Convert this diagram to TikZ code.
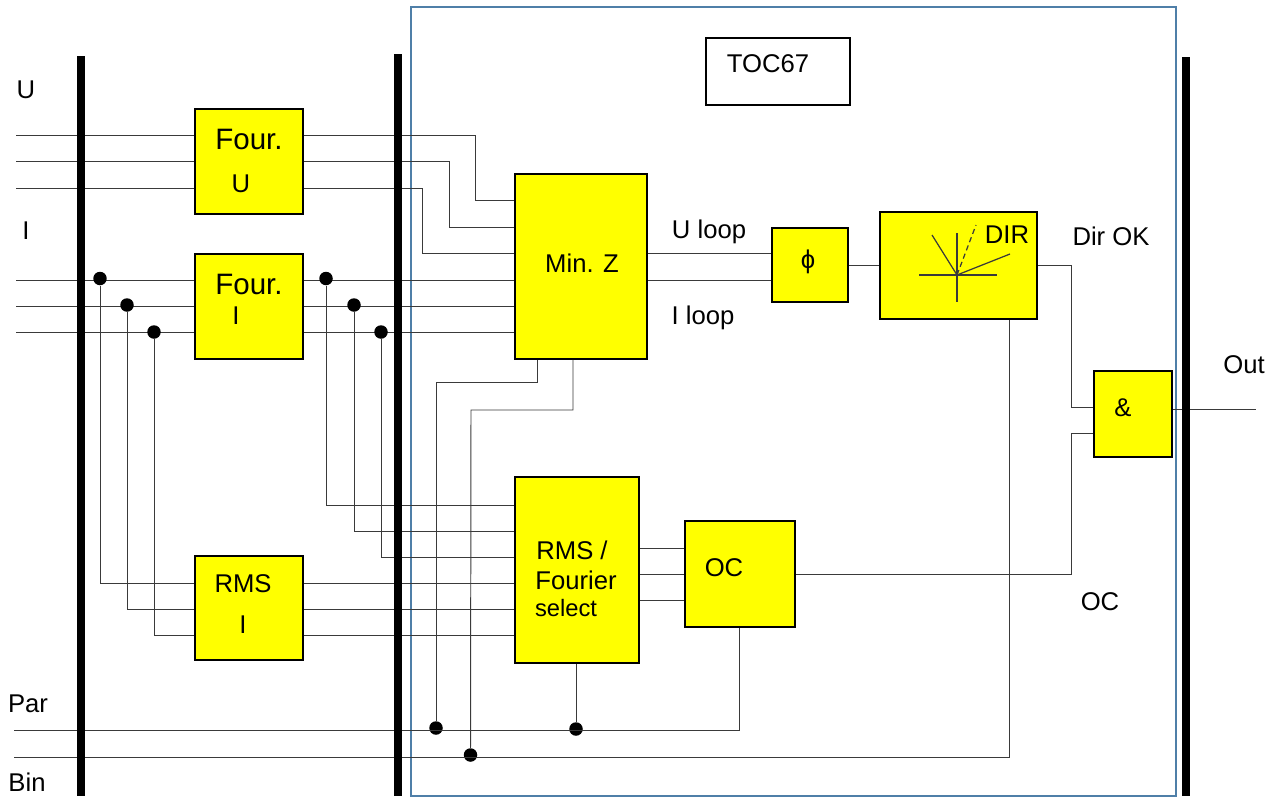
\documentclass[tikz,border=0pt]{standalone}
\usepackage{fontspec}
\setmainfont{Liberation Sans}
\usetikzlibrary{calc}
\definecolor{framecol}{HTML}{4F7FA8}
\definecolor{wirecol}{HTML}{3A3A3A}
\definecolor{blockcol}{RGB}{255,255,0}

\begin{document}
\begin{tikzpicture}[
  x=0.02cm,y=-0.02cm,
  block/.style={draw=black,line width=1.1pt,fill=blockcol,inner sep=0pt},
  busbar/.style={fill=black,inner sep=0pt,minimum width=0.16cm},
  wire/.style={draw=wirecol,line width=0.55pt},
  junction/.style={circle,fill=black,inner sep=0pt,minimum size=0.27cm},
  lbl/.style={inner sep=0pt,font=\fontsize{14.6}{17}\selectfont},
  biglbl/.style={lbl,font=\fontsize{16.8}{20}\selectfont}
]
\useasboundingbox (0,0) rectangle (1275,798);

% frame
\node[draw=framecol,line width=1.1pt,inner sep=0pt,minimum width=15.3cm,minimum height=15.78cm] (frame) at (793.5,401.5) {};

% blocks
\node[block,minimum width=2.16cm,minimum height=2.1cm] (fourU) at (249,161.5) {};
\node[block,minimum width=2.16cm,minimum height=2.1cm] (fourI) at (249,306.5) {};
\node[block,minimum width=2.16cm,minimum height=2.08cm] (rmsI) at (249,608) {};
\node[block,minimum width=2.64cm,minimum height=3.7cm] (minZ) at (581,266.5) {};
\node[block,minimum width=2.48cm,minimum height=3.72cm] (rmsF) at (577,570) {};
\node[block,minimum width=2.2cm,minimum height=2.12cm] (oc) at (740,574) {};
\node[block,minimum width=1.52cm,minimum height=1.48cm] (phi) at (810,265) {};
\node[block,minimum width=3.14cm,minimum height=2.14cm] (dir) at (958.5,265.5) {};
\node[block,minimum width=1.56cm,minimum height=1.72cm] (and) at (1133,414) {};
\node[draw=black,line width=0.8pt,fill=white,inner sep=0pt,minimum width=2.88cm,minimum height=1.34cm] (toc) at (778,71.5) {};

% inputs
\coordinate (u1) at (16,135);
\coordinate (u2) at (16,161);
\coordinate (u3) at (16,188);
\coordinate (i1) at (16,280);
\coordinate (i2) at (16,306);
\coordinate (i3) at (16,332);
\coordinate (par) at (14,730);
\coordinate (bin) at (14,757);
\coordinate (out) at (1256,409);

\foreach \n/\xb/\yb in {1/475/200,2/449/227,3/422/253}{
  \draw[wire] (u\n) -- (u\n -| fourU.west);
  \draw[wire] (u\n -| fourU.east) -- (\xb,0 |- u\n) -- (\xb,\yb) -- (minZ.west |- 0,\yb);
}
\foreach \n in {1,2,3}{
  \draw[wire] (i\n) -- (i\n -| fourI.west);
  \draw[wire] (i\n -| fourI.east) -- (i\n -| minZ.west);
}

% junctions on the current lines
\foreach \n/\xa/\xb/\yd/\ya/\yb in {1/100/326/278.5/583/505,2/127/354/305/609/531,3/154/381/332/635/557}{
  \node[junction] (ja\n) at (\xa,\yd) {};
  \node[junction] (jb\n) at (\xb,\yd) {};
  \draw[wire] (ja\n) -- (\xa,\ya) -- (rmsI.west |- 0,\ya);
  \draw[wire] (jb\n) -- (\xb,\yb) -- (rmsF.west |- 0,\yb);
  \draw[wire] (rmsI.east |- 0,\ya) -- (rmsF.west |- 0,\ya);
}
\foreach \y in {548,574,600}{
  \draw[wire] (rmsF.east |- 0,\y) -- (oc.west |- 0,\y);
}

% par and bin
\node[junction] (jpar1) at (436,728) {};
\node[junction] (jpar2) at (576,729) {};
\node[junction] (jbin) at (470.5,755) {};
\draw[wire] (par) -- (739,730) -- (oc.south -| 739,0);
\draw[wire] (bin) -- (1009,757) -- (dir.south -| 1009,0);
\draw[wire] (jpar1) -- (436,382) -- (537,382) -- (minZ.south -| 537,0);
\draw[wire] (jbin) -- (471,410) -- (573,410) -- (minZ.south -| 573,0);
\draw[wire] (jpar2) -- (rmsF.south -| jpar2);

% signal path
\draw[wire] (minZ.east |- 0,253) -- (phi.west |- 0,253);
\draw[wire] (minZ.east |- 0,280) -- (phi.west |- 0,280);
\draw[wire] (phi.east) -- (dir.west |- phi.east);
\draw[wire] (dir.east) -- (1071,265.5) -- (1071,407) -- (and.west |- 0,407);
\draw[wire] (oc.east) -- (1071,574) -- (1071,433) -- (and.west |- 0,433);
\draw[wire] (and.east |- out) -- (out);

% bars
\node[busbar,minimum height=14.8cm] (barA) at (81,426) {};
\node[busbar,minimum height=14.84cm] (barB) at (398,425) {};
\node[busbar,minimum height=14.78cm] (barC) at (1186,426.5) {};

% phasor sketch
\coordinate (origin) at (957,275);
\draw[wire,line width=0.7pt] (919,275) -- (997,275);
\draw[wire,line width=0.7pt] (957,233) -- (957,302);
\draw[wire,line width=0.7pt] (origin) -- (932,235);
\draw[wire,line width=0.7pt] (origin) -- (1010,254);
\draw[wire,line width=0.7pt,dash pattern=on 3pt off 2pt] (origin) -- (976,225);

% texts
\node[lbl] (tU) at (26,90) {U};
\node[lbl] (tI) at (26,231) {I};
\node[lbl] (tPar) at (28,704) {Par};
\node[lbl] (tBin) at (27,782) {Bin};
\node[biglbl] (tFourU) at (249,139) {Four.};
\node[lbl] (tFourUb) at (241,184) {U};
\node[biglbl] (tFourI) at (249,284) {Four.};
\node[lbl] (tFourIb) at (236,316) {I};
\node[lbl] (tRms) at (243,584) {RMS};
\node[lbl] (tRmsb) at (243,625) {I};
\node[lbl] (tToc) at (768,64) {TOC67};
\node[lbl] (tMinZ) at (582,263) {Min. Z};
\node[lbl] (tUloop) at (709,232) {U loop};
\node[lbl] (tIloop) at (703,318) {I loop};
\node[lbl] (tPhi) at (808,262) {ϕ};
\node[lbl] (tDir) at (1007,235) {DIR};
\node[lbl] (tDirOk) at (1111,236) {Dir OK};
\node[lbl] (tAnd) at (1123,408) {\&};
\node[lbl] (tOut) at (1244,365) {Out};
\node[lbl] (tOcBox) at (724,568) {OC};
\node[lbl] (tOc) at (1100,602) {OC};
\node[lbl] (tRmsF) at (572,550) {RMS /};
\node[lbl] (tFourier) at (576,580) {Fourier};
\node[lbl,font=\fontsize{13.5}{16}\selectfont] (tSelect) at (566,608) {select};
\end{tikzpicture}
\end{document}
